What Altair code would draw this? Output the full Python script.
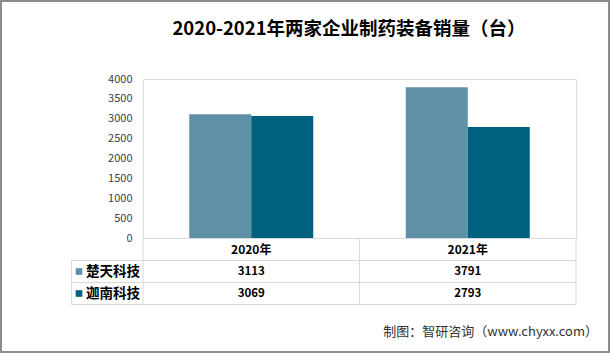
import altair as alt
import pandas as pd

# ---- data ----
years = ["2020年", "2021年"]
companies = ["楚天科技", "迦南科技"]
chutian = [3113, 3791]
jianan = [3069, 2793]
colors = ["#5E91A7", "#00617F"]
y_ticks = [0, 500, 1000, 1500, 2000, 2500, 3000, 3500, 4000]
title_text = "2020-2021年两家企业制药装备销量（台）"
source_text = "制图：智研咨询（www.chyxx.com）"

rows = []
for i, yr in enumerate(years):
    rows.append({"year": yr, "company": companies[0], "value": chutian[i]})
    rows.append({"year": yr, "company": companies[1], "value": jianan[i]})
df = pd.DataFrame(rows)
df_years = pd.DataFrame({"year": years})
df_comp = pd.DataFrame({"company": companies})
df_one = pd.DataFrame({"t": [source_text], "title": [title_text]})

W, H = 433, 159
FONT = "Noto Sans CJK SC"
GRID = "#d9d9d9"

xscale = alt.Scale(domain=years, paddingInner=0, paddingOuter=0)
tscale = alt.Scale(type="band", domain=companies, range=[181.5, 225.5],
                   paddingInner=0, paddingOuter=0)
cscale = alt.Scale(domain=companies, range=colors)

bars = alt.Chart(df).mark_bar().encode(
    x=alt.X("year:N", scale=xscale, axis=None),
    xOffset=alt.XOffset("company:N",
                        scale=alt.Scale(domain=companies, paddingInner=0, paddingOuter=0.746)),
    y=alt.Y("value:Q", scale=alt.Scale(domain=[0, 4000], nice=False),
            axis=alt.Axis(values=y_ticks, format="d", grid=False, domain=False, ticks=False,
                          labelPadding=11, labelFontSize=11, labelColor="#404040",
                          labelFont=FONT, title=None)),
    color=alt.Color("company:N", scale=cscale, legend=None),
)

# table: header
header = alt.Chart(df_years).mark_text(font=FONT, fontSize=12, fontWeight="bold",
                                        color="#000000", baseline="middle").encode(
    x=alt.X("year:N", scale=xscale, axis=None),
    y=alt.value(170.5),
    text="year:N",
)

values = alt.Chart(df).mark_text(font=FONT, fontSize=11.5, fontWeight="bold",
                                 color="#000000", baseline="middle").encode(
    x=alt.X("year:N", scale=xscale, axis=None),
    y=alt.Y("company:N", scale=tscale, axis=None),
    text=alt.Text("value:Q", format="d"),
)

labels = alt.Chart(df_comp).mark_text(font=FONT, fontSize=13.5, fontWeight="bold",
                                      color="#000000", align="left", baseline="middle").encode(
    x=alt.value(-57),
    y=alt.Y("company:N", scale=tscale, axis=None),
    text="company:N",
)

squares = alt.Chart(df_comp).mark_square(size=44, opacity=1).encode(
    x=alt.value(-64),
    y=alt.Y("company:N", scale=tscale, axis=None),
    color=alt.Color("company:N", scale=cscale, legend=None),
)

# table grid lines
vlines_l = alt.Chart(df_years).mark_rule(color=GRID, strokeWidth=1).encode(
    x=alt.X("year:N", scale=xscale, axis=None, bandPosition=0),
    y=alt.value(159.5), y2=alt.value(225.5),
)
vlines_r = alt.Chart(df_years).mark_rule(color=GRID, strokeWidth=1).encode(
    x=alt.X("year:N", scale=xscale, axis=None, bandPosition=1),
    y=alt.value(159.5), y2=alt.value(225.5),
)
vline_label = alt.Chart(df_one).mark_rule(color=GRID, strokeWidth=1).encode(
    x=alt.value(-71.5), y=alt.value(181.5), y2=alt.value(225.5),
)
hline_top = alt.Chart(df_one).mark_rule(color=GRID, strokeWidth=1).encode(
    x=alt.value(0), x2=alt.value(W), y=alt.value(159.5),
)
hlines_a = alt.Chart(df_comp).mark_rule(color=GRID, strokeWidth=1).encode(
    y=alt.Y("company:N", scale=tscale, axis=None, bandPosition=0),
    x=alt.value(-71.5), x2=alt.value(W),
)
hlines_b = alt.Chart(df_comp).mark_rule(color=GRID, strokeWidth=1).encode(
    y=alt.Y("company:N", scale=tscale, axis=None, bandPosition=1),
    x=alt.value(-71.5), x2=alt.value(W),
)

title = alt.Chart(df_one).mark_text(font=FONT, fontSize=18.5, fontWeight="bold",
                                    color="#000000", align="center", baseline="middle").encode(
    x=alt.value(206), y=alt.value(-50), text="title:N",
)

source = alt.Chart(df_one).mark_text(font=FONT, fontSize=13, color="#333333",
                                     align="right", baseline="middle").encode(
    x=alt.value(455), y=alt.value(253), text="t:N",
)

border = alt.Chart(df_one).mark_rect(fillOpacity=0, stroke="#8c8c8c", strokeWidth=2).encode(
    x=alt.value(-142), x2=alt.value(466), y=alt.value(-78), y2=alt.value(273),
)

chart = alt.layer(
    bars, vlines_l, vlines_r, vline_label, hline_top, hlines_a, hlines_b,
    header, values, squares, labels, title, source, border
).resolve_scale(
    y="independent"
).properties(
    width=W, height=H,
    padding={"left": 143, "top": 79, "right": 34, "bottom": 115},
    autosize=alt.AutoSizeParams(type="none"),
).configure_view(stroke=None).configure(background="white")

chart.save("out.html", embed_options={"renderer": "svg", "actions": False})
